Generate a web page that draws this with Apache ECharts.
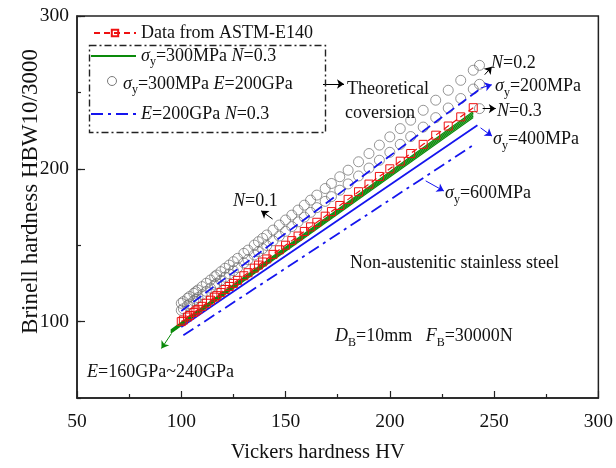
<!DOCTYPE html>
<html><head><meta charset="utf-8">
<script src="https://cdn.jsdelivr.net/npm/echarts@6/dist/echarts.min.js"></script>
<style>html,body{margin:0;padding:0;background:#fff}#c{width:616px;height:468px}</style>
</head><body><div id="c"></div>
<script>
const FONT = 'Liberation Serif';

// ---- data ----
const xTicks = [50, 100, 150, 200, 250, 300];
const yTickLabels = [100, 200, 300];

// ASTM E140 (non-austenitic steels) HV vs HB
const astmHV = [240,234,228,222,216,210,205,200,195,190,185,180,176,172,169,165,162,159,156,153,150,147,144,141,139,137,135,132,130,127,125,123,121,119,117,116,114,112,110,108,107,106,104,103,101,100];
const astmHB = [240,234,228,222,216,210,205,200,195,190,185,180,176,172,169,165,162,159,156,153,150,147,144,141,139,137,135,132,130,127,125,123,121,119,117,116,114,112,110,108,107,106,104,103,101,100];

// theoretical points, sigma_y=300MPa E=200GPa
const circleHV = [243,240,234,228,222,216,210,205,200,195,190,185,180,176,172,169,165,162,159,156,153,150,147,144,141,139,137,135,132,130,127,125,123,121,119,117,116,114,112,110,108,107,106,104,103,101,100];
const circleHB_upper = [267.7,264.5,257.9,251.4,244.9,238.3,231.8,226.3,220.9,215.5,210.0,204.6,199.1,194.8,190.4,187.1,182.8,179.5,176.2,173.0,169.7,166.5,163.2,159.9,156.7,154.5,152.3,150.1,146.8,144.7,141.4,139.2,137.0,134.9,132.7,130.5,129.4,127.2,125.1,122.9,120.7,119.6,118.5,116.4,115.3,113.1,112.0];
const circleHB_lower = [255.3,252.2,246.0,239.8,233.5,227.3,221.1,216.0,210.8,205.6,200.5,195.3,190.1,186.0,181.8,178.7,174.6,171.5,168.4,165.3,162.2,159.1,156.0,152.9,149.8,147.7,145.7,143.6,140.5,138.4,135.3,133.3,131.2,129.1,127.0,125.0,123.9,121.9,119.8,117.7,115.7,114.6,113.6,111.5,110.5,108.4,107.4];
const circleN03HV = [243];
const circleN03HB = [239.4];

// sigma_y=300MPa N=0.3, E = 160..240 GPa
const greenE = [160, 180, 200, 220, 240];
const greenHV = [95, 240];
const greenHB = [[92.5, 233.5], [93, 234.5], [93.5, 235.5], [94, 236.5], [94.5, 237.5]];

// E=200GPa N=0.3, sigma_y = 200 / 400 / 600 MPa
const blueS200HV = [100, 243], blueS200HB = [107, 252];
const blueS400HV = [100, 242], blueS400HB = [96.5, 228.5];
const blueS600HV = [101, 240], blueS600HB = [91, 215.5];

const zip = (xs, ys) => xs.map((x, i) => [x, ys[i]]);

const L1 = 'Data from ASTM-E140';
const L2 = 'σy=300MPa N=0.3';
const L3 = 'σy=300MPa E=200GPa';
const L4 = 'E=200GPa N=0.3';

const FS = 18;
const rich = {
  r: {fontFamily: FONT, fontSize: FS, lineHeight: 24, color: '#111'},
  i: {fontFamily: FONT, fontSize: FS, lineHeight: 24, color: '#111', fontStyle: 'italic'},
  s: {fontFamily: FONT, fontSize: 12, lineHeight: 12, color: '#111', verticalAlign: 'bottom'}
};
const legendText = {
  [L1]: '{r|Data from ASTM-E140}',
  [L2]: '{i|σ}{s|y}{r|=300MPa }{i|N}{r|=0.3}',
  [L3]: '{i|σ}{s|y}{r|=300MPa }{i|E}{r|=200GPa}',
  [L4]: '{i|E}{r|=200GPa }{i|N}{r|=0.3}'
};
function mkLegend(name, left, top, w, h, hideSymbol) {
  const lg = {
    data: [name], left: left, top: top, padding: 0, itemWidth: w, itemHeight: h,
    selectedMode: false,
    formatter: n => legendText[n],
    textStyle: {rich: rich, fontFamily: FONT, fontSize: FS}
  };
  if (hideSymbol) lg.itemStyle = {opacity: 0};
  return lg;
}

const chart = echarts.init(document.getElementById('c'), null, {renderer: 'canvas'});

const series = [];
const circleStyle = {color: 'rgba(0,0,0,0)', borderColor: '#6b6b6b', borderWidth: 0.9};
[zip(circleHV, circleHB_upper), zip(circleHV, circleHB_lower), zip(circleN03HV, circleN03HB)].forEach(d => {
  series.push({type: 'scatter', name: L3, data: d, symbol: 'circle', symbolSize: 10,
    itemStyle: circleStyle, z: 2, silent: true});
});
greenHB.forEach(hb => {
  series.push({type: 'line', name: L2, data: zip(greenHV, hb), symbol: 'none',
    lineStyle: {color: '#0a8a0a', width: 1.2}, itemStyle: {color: '#0a8a0a'}, z: 3, silent: true});
});
series.push({type: 'line', name: L4, data: zip(blueS600HV, blueS600HB), symbol: 'none',
  lineStyle: {color: '#1515ee', width: 1.8, type: [12, 5, 3, 5]}, itemStyle: {color: '#1515ee'}, z: 3, silent: true});
series.push({type: 'line', name: L4, data: zip(blueS400HV, blueS400HB), symbol: 'none',
  lineStyle: {color: '#1515ee', width: 1.8}, itemStyle: {color: '#1515ee'}, z: 3, silent: true});
series.push({type: 'line', name: L4, data: zip(blueS200HV, blueS200HB), symbol: 'none',
  lineStyle: {color: '#1515ee', width: 1.8, type: [10, 5]}, itemStyle: {color: '#1515ee'}, z: 3, silent: true});

function arrow(p1, p2, color) {
  return [{coord: p1, symbol: 'none', lineStyle: {color: color, width: 1, type: 'solid'}},
          {coord: p2, symbol: 'arrow', symbolSize: 7}];
}
function parrow(p1, p2, color) {
  return [{x: p1[0], y: p1[1], symbol: 'none', lineStyle: {color: color, width: 1, type: 'solid'}},
          {x: p2[0], y: p2[1], symbol: 'arrow', symbolSize: 7}];
}
series.push({type: 'line', name: L1, data: zip(astmHV, astmHB), symbol: 'rect', symbolSize: 8,
  showAllSymbol: true,
  lineStyle: {color: '#ee1111', width: 1.2, type: [6, 4]},
  itemStyle: {color: 'rgba(0,0,0,0)', borderColor: '#ee1111', borderWidth: 1}, z: 4, silent: true,
  markLine: {
    silent: true, animation: false, label: {show: false}, symbolSize: 7,
    emphasis: {disabled: true},
    data: [
      arrow([245.5, 261.6], [248.9, 266.8], '#000'),
      arrow([243.6, 252.9], [248.9, 255.0], '#1515ee'),
      arrow([244.5, 239.4], [250.8, 239.4], '#000'),
      arrow([243.5, 226.8], [249.0, 221.4], '#1515ee'),
      arrow([217.2, 192.1], [225.9, 185.5], '#1515ee'),
      arrow([143.8, 167.1], [138.3, 172.5], '#000'),
      arrow([95.3, 92.2], [90.5, 82.4], '#0a8a0a'),
      parrow([323, 84], [344, 84], '#000')
    ]
  }
});

const DY = 4.5;
function txt(x, y, text) {
  return {type: 'text', left: x, top: y + DY, z: 10, silent: true,
    style: {text: text, rich: rich, fontFamily: FONT, fontSize: FS, fill: '#111'}};
}

chart.setOption({
  animation: false,
  grid: {left: 77, right: 16, top: 16, bottom: 69, show: true, borderColor: '#222', borderWidth: 1.5, backgroundColor: 'transparent'},
  legend: [
    mkLegend(L1, 93, 24, 42, 8, false),
    mkLegend(L2, 90, 47, 45, 14, true),
    mkLegend(L3, 90, 75, 45, 9, true),
    mkLegend(L4, 90, 105, 45, 14, true)
  ],
  xAxis: {
    type: 'value', min: xTicks[0], max: xTicks[xTicks.length - 1], interval: 50,
    name: 'Vickers hardness HV', nameLocation: 'middle', nameGap: 44, nameMoveOverlap: false,
    nameTextStyle: {fontFamily: FONT, fontSize: 20.5, color: '#111', padding: [0, 40, 0, 0]},
    axisLine: {lineStyle: {color: '#222', width: 1.5}},
    axisTick: {inside: true, length: 7, lineStyle: {color: '#222', width: 1.2}},
    minorTick: {show: true, splitNumber: 2, length: 4, lineStyle: {color: '#222', width: 1.2}},
    axisLabel: {fontFamily: FONT, fontSize: 19.5, color: '#111', margin: 14},
    splitLine: {show: false}, minorSplitLine: {show: false}
  },
  yAxis: [{
    type: 'value', min: 50, max: 300, interval: 50,
    name: 'Brinell hardness HBW10/3000', nameLocation: 'middle', nameGap: 35, nameMoveOverlap: false,
    nameTextStyle: {fontFamily: FONT, fontSize: 23, color: '#111', padding: [0, 0, 0, 31]},
    axisLine: {lineStyle: {color: '#222', width: 1.5}},
    axisTick: {inside: true, length: 8, customValues: yTickLabels, lineStyle: {color: '#222', width: 1.2}},
    axisLabel: {fontFamily: FONT, fontSize: 19.5, color: '#111', margin: 8, customValues: yTickLabels},
    splitLine: {show: false}
  }, {
    type: 'value', min: 50, max: 300, interval: 50, position: 'left',
    axisLine: {show: false}, axisLabel: {show: false}, splitLine: {show: false},
    axisTick: {inside: true, length: 4, lineStyle: {color: '#222', width: 1.2}}
  }],
  graphic: [
    {type: 'rect', left: 87, top: 43, z: 10, silent: true,
      shape: {width: 236, height: 87},
      style: {fill: 'none', stroke: '#222', lineWidth: 1.4, lineDash: [7, 3, 2, 3]}},
    {type: 'circle', z: 10, silent: true, shape: {cx: 112, cy: 81, r: 4.5},
      style: {fill: 'none', stroke: '#6b6b6b', lineWidth: 0.9}},
    txt(347, 76, '{r|Theoretical}'),
    txt(345, 100, '{r|coversion}'),
    txt(491, 50, '{i|N}{r|=0.2}'),
    txt(495, 73, '{i|σ}{s|y}{r|=200MPa}'),
    txt(497, 98, '{i|N}{r|=0.3}'),
    txt(493, 126, '{i|σ}{s|y}{r|=400MPa}'),
    txt(445, 180, '{i|σ}{s|y}{r|=600MPa}'),
    txt(233, 188, '{i|N}{r|=0.1}'),
    txt(87, 359, '{i|E}{r|=160GPa~240GPa}'),
    txt(350, 250, '{r|Non-austenitic stainless steel}'),
    txt(335, 323, '{i|D}{s|B}{r|=10mm   }{i|F}{s|B}{r|=30000N}')
  ],
  series: series
});
</script></body></html>
